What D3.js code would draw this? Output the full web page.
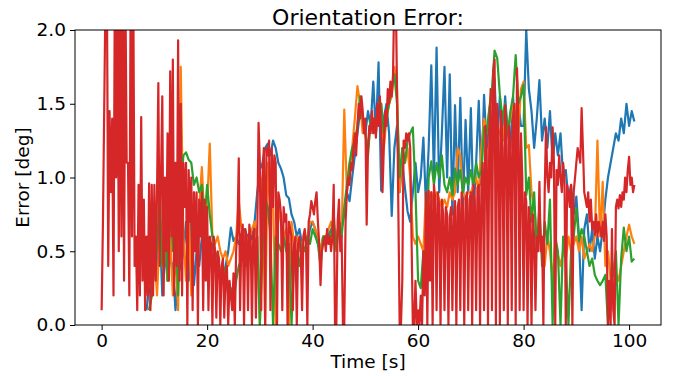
<!DOCTYPE html>
<html>
<head>
<meta charset="utf-8">
<script src="https://cdn.jsdelivr.net/npm/d3@7/dist/d3.min.js"></script>
<style>
  body { margin: 0; background: #fff; }
  text { font-family: "DejaVu Sans", sans-serif; fill: #000; }
</style>
</head>
<body>
<svg id="chart" width="677" height="376"></svg>
<script>
// blue / orange / green sampled every 0.5 s, red every 0.25 s, all from t = 0
// null = hidden under the red trace in the picture, not drawn
const stepCoarse = 0.5;
const stepFine = 0.25;
const xTicks = [0, 20, 40, 60, 80, 100];
const yTicks = [0, 0.5, 1.0, 1.5, 2.0];
const colors = ["#1f77b4", "#ff7f0e", "#2ca02c", "#d62728"];

const errBlue = [
  null, null, null, null, null, null, null, null, null, null,
  null, null, null, null, null, null, null, 0.1, 0.25, 0.2,
  0.4, 0.3, 0.7, 0.2, 0.5, 0.3, 0.45, 0.4, 0.1, 0.35,
  0.4, 0.5, 0.7, 0.3, 0.71, 0.27, 0.5, 0.4, 0.6, 0.5,
  0.6, 0.5, 0.55, 0.45, 0.4, 0.35, 0.3, 0.4, 0.5, 0.66,
  0.57, 0.6, 0.55, 0.6, 0.65, 0.6, 0.62, 0.58, 0.7, 0.9,
  1.05, 1.1, 1.2, 1.23, 1.15, 1.25, 1.2, 1.1, 1.06, 1.0,
  0.88, 0.86, 0.75, 0.7, 0.6, 0.65, 0.55, 0.6, 0.55, 0.65,
  0.7, 0.65, 0.55, 0.5, 0.6, 0.55, 0.6, 0.65, 0.6, 0.55,
  0.7, 0.65, 0.75, 0.9, 0.84, 1.0, 1.15, 1.3, 1.45, 1.4,
  1.3, 1.45, 1.35, 1.65, 1.3, 1.78, 0.91, 1.4, 1.5, 1.3,
  0.74, 1.2, 1.35, 0.9, 1.1, 0.93, 0.77, 0.7, 0.9, 1.1,
  0.9, 1.0, 1.27, 0.8, 1.2, 1.76, 1.0, 1.88, 0.9, 1.3,
  1.75, 1.0, 1.7, 0.75, 1.49, 0.9, 1.54, 0.8, 1.39, 0.9,
  1.47, 0.75, 1.1, 1.52, 0.95, 1.56, 1.2, 1.4, 1.3, 1.67,
  1.2, 1.55, 1.25, 1.55, 1.3, 1.2, 1.55, 1.2, 1.5, 1.35,
  1.35, 2.0, 1.6, 1.45, 1.2, 1.4, 1.66, 1.25, 1.4, 1.2,
  1.45, 1.1, 1.3, 1.15, 1.3, 1.0, 1.05, 0.85, 0.95, 0.75,
  0.87, 0.6, 0.1, 0.65, 0.75, 0.5, 0.65, 0.45, 0.6, 0.5,
  0.65, 0.85, 1.0, 1.1, 1.2, 1.3, 1.25, 1.4, 1.3, 1.5,
  1.35, 1.45, 1.38
];

const errOrange = [
  null, null, null, null, null, null, null, null, null, null,
  null, null, null, null, null, null, null, null, 0.1, 0.2,
  0.5, 0.2, 0.6, 0.4, 0.7, 0.3, 0.6, 0.2, 0.5, 0.1,
  1.75, 0.6, 0.3, 0.8, 0.2, 0.9, 0.6, 0.8, 1.07, 0.7,
  0.8, 1.23, 0.6, 0.55, 0.6, 0.5, 0.45, 0.5, 0.4, 0.45,
  0.5, 0.6, 0.84, 0.66, 0.6, 0.55, 0.6, 0.65, 0.7, 0.6,
  0.0, 1.0, 0.0, 1.1, 0.8, 0.9, 0.0, 0.8, 0.7, 0.6,
  0.65, 0.0, 0.7, 0.55, 0.6, 0.5, 0.55, 0.6, 0.6, 0.7,
  0.7, 0.65, 0.6, 0.5, 0.6, 0.6, 0.65, 0.7, 0.55, 0.6,
  0.7, 0.6, 1.46, 0.9, 1.05, 1.2, 1.4, 1.62, 1.5, 1.3,
  1.3, 1.2, 1.35, 1.4, 1.3, 1.45, 1.5, 1.2, 1.4, 1.5,
  1.55, 1.75, 1.6, 0.9, 1.2, 1.1, 1.2, 1.0, 0.6, 0.55,
  0.6, 0.55, 0.5, 0.9, 0.85, 0.9, 0.8, 0.9, 0.85, 0.8,
  0.85, 0.8, 0.9, 0.85, 0.9, 1.2, 1.15, 0.9, 0.85, 0.9,
  0.9, 0.95, 1.0, 0.9, 1.2, 1.4, 1.3, 1.45, 1.6, 1.3,
  1.35, 1.3, 1.25, 1.4, 1.3, 1.4, 1.5, 1.4, 1.3, 1.6,
  1.65, 1.2, 1.22, 0.9, 0.8, 0.6, 0.7, 0.5, 0.4, 0.6,
  0.5, 0.3, 0.55, 0.48, 0.4, 0.5, 0.45, 0.6, 0.5, 0.55,
  0.6, 0.5, 0.6, 0.45, 0.5, 0.55, 0.5, 0.6, 1.25, 0.6,
  0.97, 0.4, 0.5, 0.3, 0.16, 0.35, 0.3, 0.4, 0.5, 0.6,
  0.68, 0.6, 0.55
];

const errGreen = [
  null, null, null, null, null, null, null, null, null, null,
  null, null, null, null, null, null, null, null, 0.1, 0.2,
  0.6, 0.5, 0.93, 0.4, 0.8, 0.3, 0.85, 0.5, 0.7, 0.2,
  0.9, 1.15, 1.17, 1.12, 1.1, 0.95, 1.0, 0.9, 0.95, 0.7,
  0.95, 0.75, 0.6, 0.5, 0.45, 0.35, 0.3, 0.39, 0.2, 0.25,
  0.16, 0.3, 0.4, 0.45, 0.5, 0.4, 0.55, 0.5, 0.55, 0.6,
  0.0, 0.5, 0.86, 0.8, 0.61, 0.0, 0.6, 0.55, 0.5, 0.6,
  0.5, 0.55, 0.0, 0.45, 0.5, 0.4, 0.55, 0.5, 0.6, 0.55,
  0.65, 0.6, 0.55, 0.4, 0.6, 0.6, 0.62, 0.6, 0.75, 0.5,
  0.7, 0.6, 0.8, 0.95, 1.1, 1.2, 1.25, 1.35, 1.55, 1.4,
  1.3, 1.15, 1.4, 1.3, 1.35, 1.45, 1.5, 1.3, 1.4, 1.5,
  1.6, 1.7, 1.5, 1.0, 1.2, 1.1, 1.25, 1.3, 1.34, 0.91,
  0.3, 0.25, 0.5, 0.4, 1.0, 1.11, 0.95, 1.1, 1.0, 1.15,
  0.95, 0.9, 1.0, 0.88, 1.06, 0.95, 1.05, 0.9, 1.0, 0.95,
  1.05, 0.95, 1.1, 1.0, 1.05, 1.34, 1.3, 1.47, 1.6, 1.86,
  1.81, 1.56, 1.4, 1.5, 1.3, 1.45, 1.55, 1.83, 1.5, 1.55,
  1.63, 0.88, 1.0, 0.7, 0.9, 0.5, 0.8, 0.4, 0.7, 0.55,
  0.85, 0.0, 0.6, 0.5, 0.0, 0.6, 0.45, 0.0, 0.5, 0.6,
  0.79, 0.57, 0.65, 0.6, 0.5, 0.4, 0.45, 0.34, 0.3, 0.27,
  0.3, 0.34, 0.0, 0.28, 0.35, 0.5, 0.0, 0.45, 0.66, 0.5,
  0.6, 0.43, 0.45
];

const errRed = [
  0.1, 0.7, 1.5, 2.3, 2.3, 0.4, 1.45, 0.9, 1.4, 0.2,
  2.3, 1.0, 2.3, 0.5, 2.3, 0.6, 2.3, 0.3, 2.3, 1.1,
  1.1, 0.2, 2.3, 0.6, 2.3, 0.4, 0.6, 0.1, 0.95, 0.2,
  1.41, 0.3, 0.85, 0.1, 0.6, 0.2, 0.96, 0.1, 0.95, 0.2,
  0.95, 0.3, 0.9, 1.64, 0.4, 1.0, 1.55, 0.2, 1.0, 0.5,
  1.3, 0.3, 1.72, 0.6, 1.8, 0.2, 1.1, 0.4, 1.93, 0.3,
  1.5, 0.2, 1.1, 0.8, 1.1, 0.0, 1.05, 0.7, 1.0, 0.1,
  0.9, 0.5, 0.9, 0.0, 0.85, 0.6, 0.9, 0.1, 0.85, 0.3,
  0.8, 0.1, 0.6, 0.55, 0.0, 0.6, 0.5, 0.05, 0.5, 0.45,
  0.0, 0.4, 0.45, 0.05, 0.35, 0.4, 0.0, 0.3, 0.2, 0.1,
  0.35, 0.0, 0.5, 0.65, 1.13, 0.1, 0.6, 0.68, 0.0, 0.65,
  0.6, 0.1, 0.68, 0.6, 0.0, 0.62, 0.65, 0.05, 0.6, 1.37,
  1.1, 0.1, 1.0, 1.2, 0.0, 1.2, 1.15, 1.25, 0.1, 1.2,
  0.8, 1.15, 1.1, 0.0, 0.9, 0.85, 0.75, 0.1, 0.8, 0.7,
  0.75, 0.0, 0.7, 0.65, 0.6, 0.1, 0.55, 0.6, 0.0, 0.55,
  0.6, 0.5, 0.1, 0.6, 0.65, 0.55, 0.0, 0.7, 0.75, 0.84,
  0.8, 0.75, 0.84, 0.9, 0.7, 0.55, 0.27, 0.5, 0.55, 0.6,
  0.5, 0.65, 0.55, 0.6, 0.5, 0.6, 0.95, 0.0, 0.0, 0.7,
  0.85, 0.5, 0.6, 0.0, 0.0, 0.7, 0.9, 1.0, 0.95, 1.1,
  1.05, 1.2, 1.3, 1.15, 1.35, 1.5, 1.4, 1.55, 1.45, 1.3,
  1.4, 0.68, 1.2, 1.35, 1.3, 1.45, 1.3, 1.4, 1.27, 1.5,
  1.35, 1.55, 1.3, 0.9, 1.2, 1.45, 1.35, 1.6, 1.5, 1.65,
  1.55, 1.7, 2.3, 2.3, 1.6, 0.8, 0.0, 0.0, 0.3, 1.25,
  1.2, 1.3, 1.25, 1.3, 1.2, 0.6, 0.0, 0.0, 0.3, 0.0,
  0.1, 0.0, 0.2, 0.0, 0.5, 0.2, 0.9, 0.0, 0.91, 0.3,
  0.9, 0.0, 0.95, 0.85, 0.1, 0.9, 0.8, 0.0, 0.85, 0.75,
  0.1, 0.8, 0.75, 0.0, 0.73, 0.8, 0.1, 0.75, 0.84, 0.0,
  0.8, 0.85, 0.1, 0.9, 0.8, 0.0, 0.85, 0.9, 0.1, 0.85,
  0.9, 0.0, 0.95, 0.85, 0.1, 0.93, 0.95, 0.0, 0.95, 1.1,
  0.1, 1.35, 1.2, 0.0, 1.3, 1.6, 0.1, 1.72, 1.8, 0.0,
  1.5, 1.3, 0.0, 1.45, 1.2, 0.1, 1.49, 1.3, 0.0, 1.35,
  1.27, 0.1, 1.4, 1.5, 0.0, 1.74, 1.4, 0.1, 1.3, 1.0,
  0.1, 0.9, 0.84, 0.0, 0.8, 0.7, 0.0, 0.75, 0.6, 0.1,
  0.6, 0.5, 0.97, 0.5, 0.6, 0.0, 0.9, 1.34, 1.0, 0.9,
  1.1, 1.0, 1.34, 1.1, 0.0, 1.05, 0.95, 1.15, 1.0, 0.9,
  1.1, 1.0, 0.0, 0.95, 0.9, 0.8, 0.95, 0.0, 0.9, 1.0,
  1.1, 1.2, 1.15, 1.1, 1.47, 1.2, 0.9, 0.85, 0.8, 0.9,
  0.7, 0.85, 0.65, 0.7, 0.61, 0.75, 0.6, 0.7, 0.65, 0.6,
  0.7, 0.57, 0.75, 0.6, 0.0, 0.3, 0.0, 0.65, 0.1, 0.0,
  0.8, 0.85, 0.79, 0.88, 0.8, 0.9, 0.85, 1.0, 0.9, 1.05,
  1.14, 0.95, 1.0, 0.9, 0.95
];

const series = [
  { values: errBlue, step: stepCoarse },
  { values: errOrange, step: stepCoarse },
  { values: errGreen, step: stepCoarse },
  { values: errRed, step: stepFine }
];

const margin = { left: 75, right: 16, top: 30, bottom: 51 };
const width = 677, height = 376;

const svg = d3.select("#chart");

const x = d3.scaleLinear()
  .domain([-5.05, 106.05])
  .range([margin.left, width - margin.right]);
const y = d3.scaleLinear()
  .domain([0, 2])
  .range([height - margin.bottom, margin.top]);

svg.append("defs").append("clipPath").attr("id", "plot-clip")
  .append("rect")
  .attr("x", margin.left).attr("y", margin.top)
  .attr("width", width - margin.left - margin.right)
  .attr("height", height - margin.top - margin.bottom);

svg.append("g").attr("clip-path", "url(#plot-clip)")
  .selectAll("path")
  .data(series)
  .enter()
  .append("path")
  .attr("d", s => d3.line()
    .defined(d => d !== null)
    .x((d, i) => x(i * s.step))
    .y(d => y(d))(s.values))
  .attr("fill", "none")
  .attr("stroke", (d, i) => colors[i])
  .attr("stroke-width", 2.2)
  .attr("stroke-linejoin", "round");

// frame
svg.append("rect")
  .attr("x", margin.left).attr("y", margin.top)
  .attr("width", width - margin.left - margin.right)
  .attr("height", height - margin.top - margin.bottom)
  .attr("fill", "none")
  .attr("stroke", "#000")
  .attr("stroke-width", 1);

const xAxis = svg.append("g")
  .attr("transform", "translate(0," + (height - margin.bottom) + ")")
  .call(d3.axisBottom(x).tickValues(xTicks).tickFormat(d3.format("d")).tickSize(5).tickPadding(4));
const yAxis = svg.append("g")
  .attr("transform", "translate(" + margin.left + ",0)")
  .call(d3.axisLeft(y).tickValues(yTicks).tickFormat(d3.format(".1f")).tickSize(5).tickPadding(4));

[xAxis, yAxis].forEach(a => {
  a.select(".domain").remove();
  a.selectAll("text").style("font-size", "18.5px").style("font-family", "DejaVu Sans");
  a.selectAll("line").attr("stroke", "#000");
});

svg.append("text")
  .attr("x", (margin.left + width - margin.right) / 2)
  .attr("y", 25)
  .attr("text-anchor", "middle")
  .style("font-size", "22px")
  .text("Orientation Error:");

svg.append("text")
  .attr("x", (margin.left + width - margin.right) / 2)
  .attr("y", 368)
  .attr("text-anchor", "middle")
  .style("font-size", "18.5px")
  .text("Time [s]");

svg.append("text")
  .attr("transform", "translate(29," + ((margin.top + height - margin.bottom) / 2) + ") rotate(-90)")
  .attr("text-anchor", "middle")
  .style("font-size", "18.5px")
  .text("Error [deg]");
</script>
</body>
</html>
